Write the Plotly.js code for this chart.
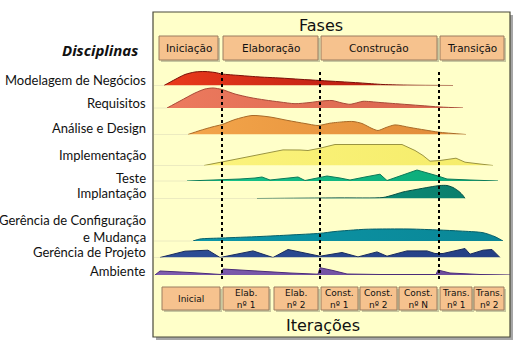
<!DOCTYPE html>
<html><head><meta charset="utf-8">
<script src="https://cdn.plot.ly/plotly-3.0.1.min.js"></script>
<style>html,body{margin:0;padding:0;background:#fff}#c{width:518px;height:345px}</style>
</head><body><div id="c"></div>
<script>
// ---------- DATA (timeline position, effort height) ----------
const disciplines = ['Modelagem de Negócios','Requisitos','Análise e Design','Implementação','Teste','Implantação','Gerência de Configuração<br>e Mudança','Gerência de Projeto','Ambiente'];
const phaseLabels = ['Iniciação','Elaboração','Construção','Transição'];
const iterLabels = ['Inicial','Elab.<br>nº 1','Elab.<br>nº 2','Const.<br>nº 1','Const.<br>nº 2','Const.<br>nº N','Trans.<br>nº 1','Trans.<br>nº 2'];

const modT = [164,175,185,195,205,215,222,240,260,280,300,320,340,360,383,410,453];
const modH = [0,6,11,13.5,14,13,11.5,10,8.5,7.5,6.2,5,3.8,2.6,1,0.3,0];
const reqT = [167,180,195,205,213,222,235,250,265,280,295,310,320,332,342,350,358,363,380,400,420,440,463];
const reqH = [0,7,15,19,20,18.5,14,10.5,8,6,4.3,5.5,6.8,7.5,5,3.7,5.5,6.7,5.5,4,2.5,1,0];
const anaT = [188,200,212,222,235,252,270,288,305,318,330,345,353,362,372,378,386,395,410,425,439,466];
const anaH = [0,4,7.5,10,15,19,17.5,14,11,9,11.3,12.8,13,11,6,4,7,9.6,7,4.5,2.3,0];
const impT = [204,222,245,265,283,300,308,320,335,360,380,402,415,423,430,440,456,465,480,493];
const impH = [0,3.5,8,12.3,15.6,15.5,15,17.3,21,21,21,21,15,10,4.3,5,7.3,3.3,1.5,0];
const tstT = [187,222,240,255,262,270,285,298,305,315,327,340,350,365,380,387,400,417,438,447,470,498];
const tstH = [0,1,2,3,4,1,2.5,4,0.5,2.5,5,3,1,4,6.8,0.5,5,11,5,2,1,0];
const dplT = [257,300,340,383,393,403,415,430,440,447,453,459,463,465];
const dplH = [0,0.3,0.6,1,3.5,6.5,8.8,11.5,13,13,11,7,3,0];
const cfgT = [193,200,222,260,290,320,335,347,365,380,410,439,460,483,495,503];
const cfgH = [0,2,3,4.5,6,7.7,9.5,10.5,11.7,12,12,11,10,8.3,4.3,0];
const pmT = [160,185,208,220,253,273,288,320,342,358,377,387,407,427,435,443,465,470,483,492,500];
const pmH = [0,6.3,7.3,0,6.6,0,8,1.3,5,0.6,5.6,1.3,6.6,6.6,4,4,9,3.3,7.3,8,0];
const envT = [155,160,190,220,221,223,260,290,318,320,333,347,380,436,438,450,480,510];
const envH = [0,4,2.5,1,0.5,6,3.5,2,0.8,7.3,4.5,1,0.5,0.5,5,2,0.5,0];

const series = [[modT,modH],[reqT,reqH],[anaT,anaH],[impT,impH],[tstT,tstH],[dplT,dplH],[cfgT,cfgH],[pmT,pmH],[envT,envH]];

// ---------- LAYOUT / STYLE ----------
const W = 518, H = 345;
const ROW_BASE = [85.5, 108, 134.5, 165.5, 181, 198.5, 241, 257.5, 275];
const LABEL_Y = [79.5, 102.5, 127.5, 155, 177.5, 193, 228.5, 252, 271];
const ROW_SPAN = 34;
const FILL_L = ['#ea3a1c','#ec7a5e','#f3a54a','#fbf37c','#16c48a','#0f9a84','#0c97a8','#2d4e96','#7e5cae'];
const FILL_R = ['#a8120e','#d8644c','#e08a38','#f5ec6a','#0aa878','#0a7e6c','#0a8696','#243f84','#6a4a9a'];
const LINE_C = ['#7a1008','#a84a38','#a86a28','#9a9440','#0c7a58','#064f44','#06606a','#182a5c','#4a2c78'];
const SMOOTH = [true,true,true,false,false,true,true,false,false];
const PHASE_EDGES = [[159,218],[223,318],[321,437],[440,504]];
const ITER_EDGES = [[162,220],[223,269],[274,318],[321,358],[360,397],[399,437],[440,472],[474,504]];
const DIVIDERS = [222,320,439];

const traces = [];
const layout = {
  width: W, height: H, margin:{l:0,r:0,t:0,b:0},
  paper_bgcolor:'#ffffff', plot_bgcolor:'rgba(0,0,0,0)', showlegend:false,
  xaxis:{range:[0,W], visible:false, fixedrange:true},
  yaxis:{range:[H,0], domain:[0,1], visible:false, fixedrange:true},
  shapes:[], annotations:[]
};
traces.push({x:[0,W], y:[0,H], mode:'none', xaxis:'x', yaxis:'y', hoverinfo:'skip'});

series.forEach((s,i)=>{
  const ax = 'y'+(i+2);
  const b = ROW_BASE[i];
  layout['yaxis'+(i+2)] = {range:[0,ROW_SPAN], domain:[(H-b)/H,(H-b+ROW_SPAN)/H], visible:false, anchor:'x', fixedrange:true};
  traces.push({
    x:s[0], y:s[1], xaxis:'x', yaxis:ax, mode:'lines', fill:'tozeroy',
    line:{color:LINE_C[i], width:1, shape:SMOOTH[i]?'spline':'linear', smoothing:0.7},
    fillcolor:FILL_L[i],
    fillgradient:{type:'horizontal', colorscale:[[0,FILL_L[i]],[1,FILL_R[i]]]},
    hoverinfo:'skip', cliponaxis:false
  });
  layout.shapes.push({type:'line', xref:'x', yref:'y', x0:154, x1:s[0][0], y0:b, y1:b, line:{color:'#ecebc0', width:1}, layer:'below'});
  layout.annotations.push({xref:'x', yref:'y', x:148, y:LABEL_Y[i], text:disciplines[i], showarrow:false, xanchor:'right', yanchor:'middle', align:'right',
    font:{family:'Lato', size:13, color:'#111'}});
});

layout.shapes.unshift(
  {type:'rect', xref:'x', yref:'y', x0:156, x1:513, y0:15, y1:340, fillcolor:'#777', line:{width:0}, layer:'below', opacity:0.65},
  {type:'rect', xref:'x', yref:'y', x0:153, x1:510, y0:12, y1:337, fillcolor:'#ffffc9', line:{color:'#4a4a3a', width:1.2}, layer:'below'}
);
DIVIDERS.forEach(x=>layout.shapes.push({type:'line', xref:'x', yref:'y', x0:x, x1:x, y0:72, y1:282, line:{color:'#000', width:2, dash:'dot'}, layer:'above'}));

function box(x0,x1,y0,y1){
  layout.shapes.push({type:'rect', xref:'x', yref:'y', x0:x0+2, x1:x1+2, y0:y0+2, y1:y1+2, fillcolor:'#c8c8a0', line:{width:0}, layer:'above'});
  layout.shapes.push({type:'rect', xref:'x', yref:'y', x0:x0, x1:x1, y0:y0, y1:y1, fillcolor:'#f6c28e', line:{color:'#9a7c60', width:1}, layer:'above'});
}
phaseLabels.forEach((t,i)=>{
  const e = PHASE_EDGES[i]; box(e[0],e[1],36,60);
  layout.annotations.push({xref:'x', yref:'y', x:(e[0]+e[1])/2, y:48, text:t, showarrow:false, font:{family:'DejaVu Sans', size:10.5, color:'#111'}});
});
iterLabels.forEach((t,i)=>{
  const e = ITER_EDGES[i]; box(e[0],e[1],287,310);
  layout.annotations.push({xref:'x', yref:'y', x:(e[0]+e[1])/2, y:298.5, text:t, showarrow:false, font:{family:'DejaVu Sans', size:9, color:'#111'}});
});
layout.annotations.push(
  {xref:'x', yref:'y', x:321, y:25, text:'Fases', showarrow:false, font:{family:'DejaVu Sans', size:16, color:'#111'}},
  {xref:'x', yref:'y', x:323, y:325, text:'Iterações', showarrow:false, font:{family:'DejaVu Sans', size:16, color:'#111'}},
  {xref:'x', yref:'y', x:100, y:50, text:'<b><i>Disciplinas</i></b>', showarrow:false, font:{family:'Open Sans', size:15, color:'#111'}}
);

Plotly.newPlot('c', traces, layout, {staticPlot:true, displayModeBar:false});
</script></body></html>
